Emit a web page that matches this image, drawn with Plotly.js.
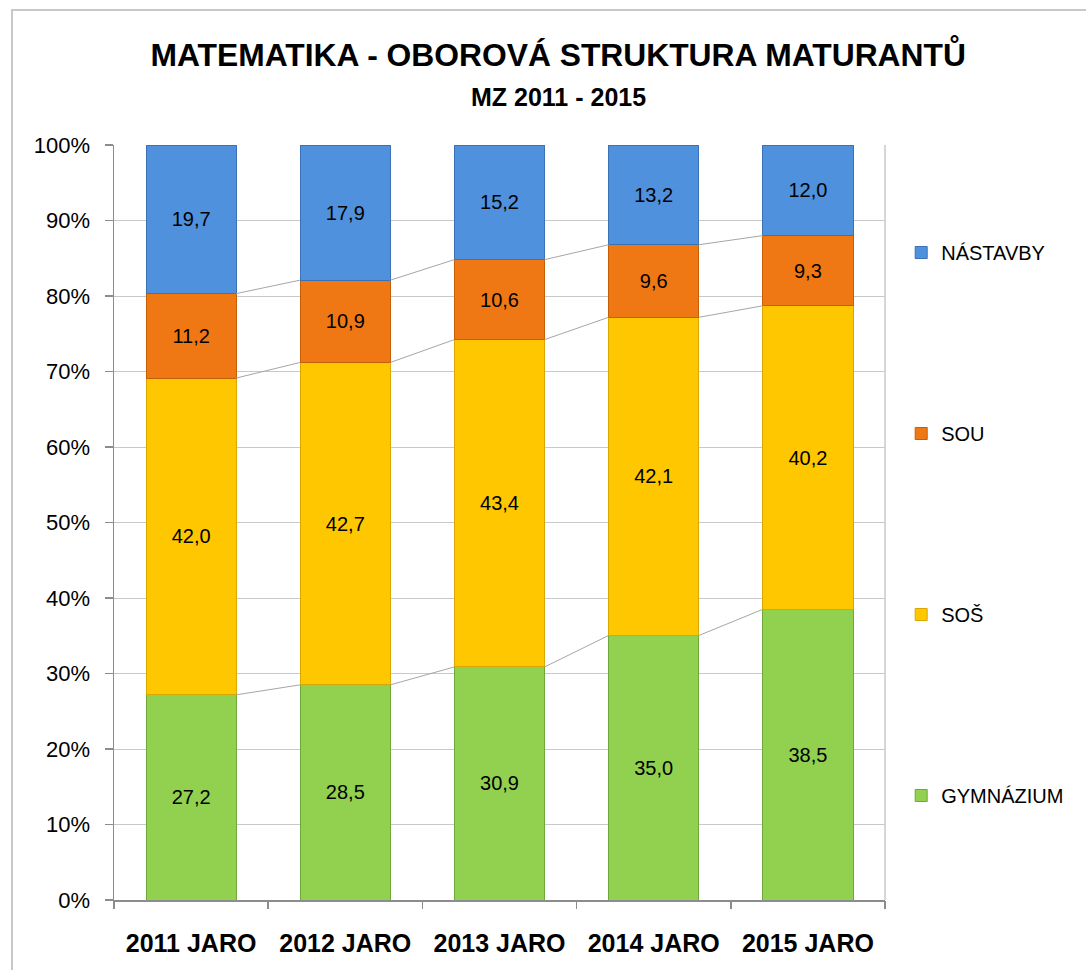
<!DOCTYPE html>
<html><head><meta charset="utf-8">
<script src="https://cdn.plot.ly/plotly-3.0.1.min.js"></script>
<style>html,body{margin:0;padding:0;background:#fff;}</style>
</head><body>
<div id="chart" style="width:1086px;height:970px;"></div>
<script>
const categories = ['2011 JARO','2012 JARO','2013 JARO','2014 JARO','2015 JARO'];
const gymnazium = [27.2, 28.5, 30.9, 35.0, 38.5];
const sos = [42.0, 42.7, 43.4, 42.1, 40.2];
const sou = [11.2, 10.9, 10.6, 9.6, 9.3];
const nastavby = [19.7, 17.9, 15.2, 13.2, 12.0];
const seriesNames = ['GYMNÁZIUM','SOŠ','SOU','NÁSTAVBY'];
const seriesColors = ['#92D050','#FFC700','#F07814','#4F91DC'];
const edgeColors = ['#6fa83a','#d9a800','#c65e08','#3a72b5'];

const series = [gymnazium, sos, sou, nastavby];
const xIdx = categories.map((c,i)=>i);
const barW = 0.585;
const fmt = v => v.toFixed(1).replace('.', ',');

const traces = [];
series.forEach((vals, s) => {
  traces.push({
    type:'bar', x:xIdx, y:vals, name:seriesNames[s], width:barW,
    legendgroup:'g'+s, legendrank: 4 - s,
    marker:{color:seriesColors[s], line:{color:edgeColors[s], width:1}},
    text: vals.map(fmt), textposition:'inside', insidetextanchor:'middle',
    textfont:{family:'Liberation Sans, Arial, sans-serif', size:20, color:'#000'},
    constraintext:'none', hoverinfo:'skip', cliponaxis:false
  });
});

// normalized cumulative tops for series lines
const totals = xIdx.map(i => series.reduce((a,s)=>a+s[i],0));
const cum = [];
let run = xIdx.map(()=>0);
series.forEach((vals,s)=>{ run = run.map((r,i)=>r + vals[i]*100/totals[i]); cum.push(run.slice()); });
for (let s=0; s<3; s++) {
  for (let i=0; i<xIdx.length-1; i++) {
    traces.push({type:'scatter', mode:'lines', x:[xIdx[i]+barW/2, xIdx[i+1]-barW/2], y:[cum[s][i], cum[s][i+1]],
      line:{color:'#a6a6a6', width:1}, showlegend:false, hoverinfo:'skip'});
  }
}
// invisible trace for boundary ticks axis
traces.push({type:'scatter', mode:'markers', x:[xIdx[0]], y:[0], xaxis:'x2', marker:{opacity:0}, showlegend:false, hoverinfo:'skip'});

const layout = {
  width:1086, height:970,
  margin:{l:114, r:201, t:145, b:70},
  barmode:'stack', barnorm:'percent',
  paper_bgcolor:'#fff', plot_bgcolor:'#fff',
  font:{family:'Liberation Sans, Arial, sans-serif', color:'#000'},
  title:{text:'<b>MATEMATIKA - OBOROVÁ STRUKTURA MATURANTŮ</b>', x:0.514, xanchor:'center', y:1-55/970, yanchor:'middle', font:{size:31.8, color:'#000'}},
  showlegend:true,
  legend:{x:1.021, xanchor:'left', y:(900-233)/755, yanchor:'top', traceorder:'grouped', tracegroupgap:152, font:{size:20}, bgcolor:'rgba(0,0,0,0)'},
  xaxis:{range:[-0.5, 4.5], tickvals:xIdx, ticktext:categories.map(c=>'<b>'+c+'</b>'), ticks:'', showgrid:false, zeroline:false,
    showline:true, linecolor:'#8c8c8c', linewidth:1.5, tickfont:{size:25, family:'Liberation Sans, Arial, sans-serif'}, ticklabelstandoff:20, fixedrange:true},
  xaxis2:{overlaying:'x', anchor:'y', side:'bottom', range:[-0.5,4.5], tickvals:[-0.5,0.5,1.5,2.5,3.5,4.5], ticks:'outside', ticklen:8, tickcolor:'#8c8c8c', tickwidth:1.5, showticklabels:false, showgrid:false, zeroline:false, showline:false},
  yaxis:{range:[0,100], dtick:10, ticksuffix:'%', ticks:'outside', ticklen:8, tickcolor:'#8c8c8c', tickwidth:1.5,
    showline:true, linecolor:'#8c8c8c', linewidth:1.5, gridcolor:'#c9c9c9', gridwidth:1, zeroline:false, tickfont:{size:22}, ticklabelstandoff:10, fixedrange:true},
  annotations:[{text:'<b>MZ 2011 - 2015</b>', xref:'paper', yref:'paper', x:(558-114)/771, y:(900-97)/755, xanchor:'center', yanchor:'middle', showarrow:false, font:{size:25, color:'#000'}}],
  shapes:[
    {type:'line', xref:'paper', yref:'paper', x0:1, x1:1, y0:0, y1:1, line:{color:'#c9c9c9', width:1.5}},
    {type:'rect', xref:'paper', yref:'paper', x0:(12-114)/771, x1:(1095-114)/771, y0:(900-980)/755, y1:(900-10)/755, line:{color:'#c8c8c8', width:2}, layer:'below'}
  ]
};
Plotly.newPlot('chart', traces, layout, {displayModeBar:false, staticPlot:true});
</script>
</body></html>
